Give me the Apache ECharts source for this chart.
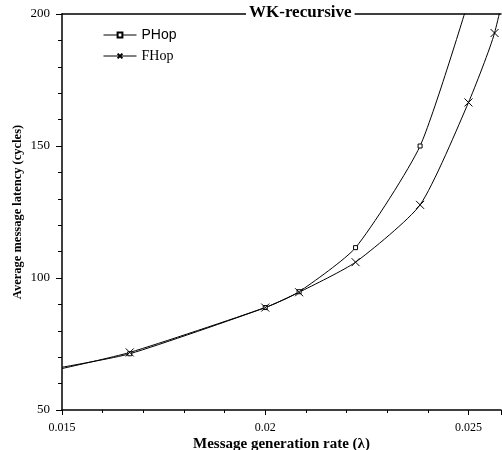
<!DOCTYPE html>
<html>
<head>
<meta charset="utf-8">
<script src="https://cdn.jsdelivr.net/npm/echarts@6/dist/echarts.min.js"></script>
<style>
  html, body { margin: 0; padding: 0; background: #fff; }
  #main { width: 502px; height: 450px; }
</style>
</head>
<body>
<div id="main"></div>
<script>
// rates (lambda) and latencies
var rates = [0.015, 1 / 60, 0.02, 1 / 48, 1 / 45, 1 / 42, 0.025, 1 / 39, 1 / 38];
var pHop = [66.2, 71.3, 88.8, 94.8, 111.5, 150, 205];
var fHop = [65.7, 71.8, 88.8, 94.6, 106, 127.7, 166.5, 192.8, 240];

var serif = 'Liberation Serif';
var crossPath = 'path://M0,0L10,10M10,0L0,10';

function toPoints(vals) {
  return vals.map(function (v, i) {
    var p = { value: [rates[i], v] };
    // the first point sits on the left axis, no marker drawn there
    if (i === 0) p.symbol = 'none';
    return p;
  });
}

var myChart = echarts.init(document.getElementById('main'));

myChart.setOption({
  backgroundColor: '#fff',
  animation: false,
  title: {
    text: 'WK-recursive',
    left: 246,
    top: 4,
    padding: [0, 3],
    backgroundColor: '#fff',
    textStyle: {
      fontFamily: serif,
      fontWeight: 'bold',
      fontSize: 17,
      color: '#000'
    }
  },
  legend: {
    orient: 'vertical',
    left: 98,
    top: 23,
    itemWidth: 33,
    itemHeight: 6,
    itemGap: 7,
    lineStyle: { width: 1 },
    data: [
      { name: 'PHop', textStyle: { fontFamily: 'Liberation Sans', fontSize: 14 } },
      { name: 'FHop', textStyle: { fontFamily: serif, fontSize: 14 } }
    ],
    textStyle: { color: '#000' }
  },
  grid: {
    left: 62,
    right: 1,
    top: 14,
    bottom: 40,
    outerBoundsMode: 'none',
    containLabel: false
  },
  xAxis: [
    {
      type: 'value',
      min: 0.015,
      max: 0.0258,
      interval: 0.005,
      name: 'Message generation rate (\u03bb)',
      nameLocation: 'middle',
      nameGap: 27,
      nameMoveOverlap: false,
      nameTextStyle: { fontFamily: serif, fontWeight: 'bold', fontSize: 15, color: '#000' },
      axisLine: { lineStyle: { color: '#000', width: 1.5 } },
      axisTick: { length: 5, lineStyle: { color: '#000' } },
      minorTick: { show: true, splitNumber: 5, length: 3, lineStyle: { color: '#000' } },
      axisLabel: {
        fontFamily: serif,
        fontSize: 12,
        color: '#000',
        margin: 12,
        showMaxLabel: false,
        formatter: function (v) { return String(+v.toFixed(3)); }
      },
      splitLine: { show: false }
    },
    {
      type: 'value',
      position: 'top',
      min: 0.015,
      max: 0.0258,
      axisLine: { show: true, lineStyle: { color: '#000', width: 1.5 } },
      axisTick: { show: false },
      axisLabel: { show: false },
      splitLine: { show: false }
    }
  ],
  yAxis: {
    type: 'value',
    min: 50,
    max: 200,
    interval: 50,
    name: 'Average message latency (cycles)',
    nameLocation: 'middle',
    nameGap: 38,
    nameMoveOverlap: false,
    nameTextStyle: { fontFamily: serif, fontWeight: 'bold', fontSize: 12.5, color: '#000' },
    axisLine: { show: true, lineStyle: { color: '#000', width: 1.5 } },
    axisTick: { show: true, length: 6, lineStyle: { color: '#000' } },
    minorTick: { show: true, splitNumber: 5, length: 4, lineStyle: { color: '#000' } },
    axisLabel: { fontFamily: serif, fontSize: 13, color: '#000', margin: 12 },
    splitLine: { show: false }
  },
  series: [
    {
      name: 'PHop',
      type: 'line',
      data: toPoints(pHop),
      smooth: 0.2,
      clip: true,
      symbol: 'rect',
      symbolSize: 4,
      itemStyle: { color: '#fff', borderColor: '#000', borderWidth: 1 },
      lineStyle: { color: '#000', width: 1 }
    },
    {
      name: 'FHop',
      type: 'line',
      data: toPoints(fHop),
      smooth: 0.2,
      clip: true,
      symbol: crossPath,
      symbolSize: 8,
      itemStyle: { color: '#000', borderColor: '#000', borderWidth: 1 },
      lineStyle: { color: '#000', width: 1 }
    }
  ]
});
</script>
</body>
</html>
